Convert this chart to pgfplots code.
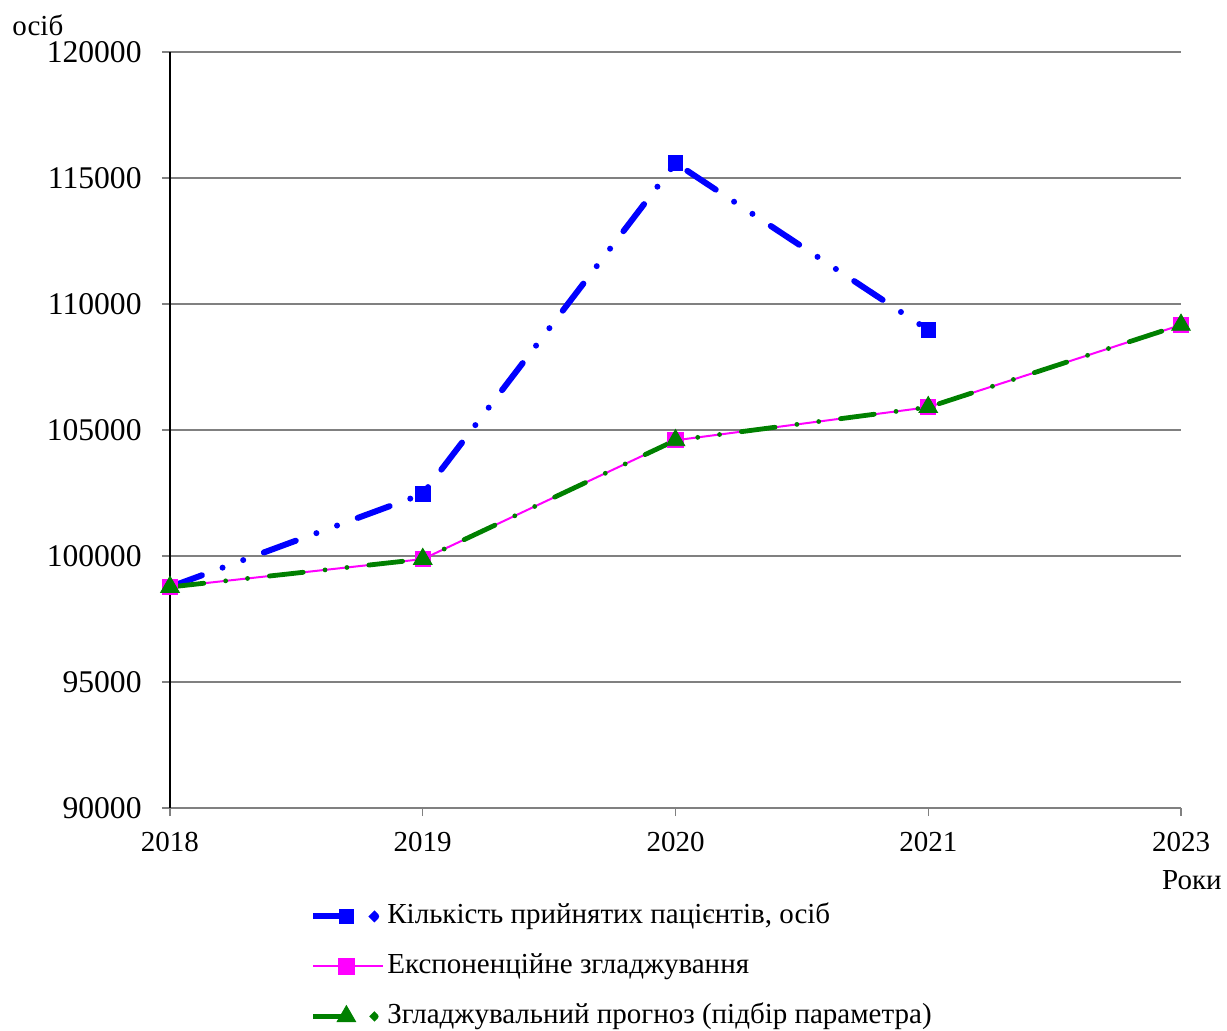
\documentclass[border=0pt]{standalone}
\usepackage{fontspec}
\setmainfont{Liberation Serif}
\usepackage{pgfplots}
\pgfplotsset{compat=1.18}

\definecolor{serblue}{RGB}{0,0,255}
\definecolor{sermag}{RGB}{255,0,255}
\definecolor{sergreen}{RGB}{0,128,0}
\definecolor{gridgray}{RGB}{128,128,128}

\tikzset{
  ldashdd/.style={dash pattern=on 17pt off 11pt on 0pt off 11pt on 0pt off 11pt},
}

% legend pictures: dash, marker, dot
\pgfplotsset{
  legdashdot/.style={legend image code/.code={
    \draw[##1, solid, line cap=butt] (0pt,0pt) -- (16pt,0pt);
    \path[##1] plot[only marks] coordinates {(16.5pt,0pt)};
    \fill[#1] (30.5pt,0pt) circle (0.9pt);
    \path (35pt,0pt);
  }},
  legsolid/.style={legend image code/.code={
    \draw[##1] (0pt,0pt) -- (35pt,0pt);
    \path[##1] plot[only marks] coordinates {(16.5pt,0pt)};
  }},
}

\begin{document}
\begin{tikzpicture}
\begin{axis}[
  at={(0,0)}, anchor=south west,
  scale only axis,
  width=505.5pt, height=378pt,
  xmin=0, xmax=4,
  ymin=90000, ymax=120000,
  xtick={0,1,2,3,4},
  xticklabels={2018,2019,2020,2021,2023},
  ytick={90000,95000,100000,105000,110000,115000,120000},
  scaled y ticks=false,
  axis lines*=left,
  x axis line style={gridgray, line width=0.7pt},
  y axis line style={black, line width=0.7pt},
  tick align=outside,
  major tick length=4pt,
  every tick/.style={gridgray, line width=0.7pt},
  ymajorgrids=true,
  major grid style={gridgray, line width=0.7pt},
  /pgf/number format/.cd, fixed, 1000 sep={}, assume math mode=true,
  /pgfplots/.cd,
  yticklabel style={font=\fontsize{15.8}{17}\selectfont, anchor=east, inner sep=0pt, xshift=-10pt},
  xticklabel style={font=\fontsize{14.5}{16}\selectfont, anchor=north, inner sep=0pt, yshift=-8pt},
  clip=false,
  legend style={
    at={(0,0)}, anchor=north west, xshift=70pt, yshift=-47.5pt,
    draw=none, fill=none, inner sep=0pt,
    row sep=12pt, column sep=0.5pt,
    font=\fontsize{14.5}{16}\selectfont,
    nodes={inner sep=0pt, text height=10pt, text depth=3pt},
  },
  legend cell align=left,
]

% Кількість прийнятих пацієнтів
\addplot[serblue, line width=3pt, ldashdd, line cap=round,
  mark=square*, mark size=3.6pt, mark options={solid, line width=0.4pt},
  legdashdot=serblue]
  coordinates {(0,98770) (1,102460) (2,115595) (3,108968)};
\addlegendentry{Кількість прийнятих пацієнтів, осіб}

% Експоненційне згладжування
\addplot[sermag, line width=1pt,
  mark=square*, mark size=3.6pt, mark options={solid},
  legsolid]
  coordinates {(0,98770) (1,99877) (2,104592) (3,105905) (4,109170)};
\addlegendentry{Експоненційне згладжування}

% Згладжувальний прогноз
\addplot[sergreen, line width=2.4pt, ldashdd, line cap=round,
  mark=triangle*, mark size=5.4pt, mark options={solid, line width=0.4pt},
  legdashdot=sergreen]
  coordinates {(0,98770) (1,99877) (2,104592) (3,105905) (4,109170)};
\addlegendentry{Згладжувальний прогноз (підбір параметра)}

\node[font=\fontsize{14.5}{16}\selectfont, anchor=west, inner sep=0pt]
  at (rel axis cs:0,1) [xshift=-79pt, yshift=13.5pt] {осіб};
\node[font=\fontsize{14.5}{16}\selectfont, anchor=east, inner sep=0pt]
  at (rel axis cs:1,0) [xshift=20.5pt, yshift=-36pt] {Роки};
\end{axis}
\path (-85pt,-111pt) rectangle (528.5pt,404pt);
\end{tikzpicture}
\end{document}
